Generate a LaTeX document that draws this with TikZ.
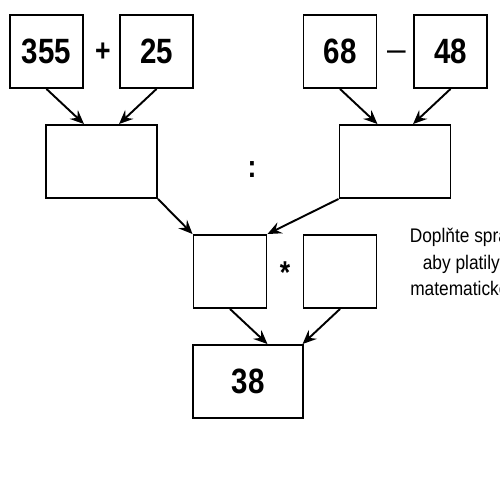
\documentclass[tikz,border=0pt]{standalone}
\usepackage{fontspec}
\setmainfont{Liberation Sans}
\newfontfamily\narrowsf[FakeStretch=0.84]{Liberation Sans}
\newfontfamily\notesf[FakeStretch=0.88]{Liberation Sans}
\usetikzlibrary{arrows.meta, positioning}

\begin{document}
\begin{tikzpicture}[
    % Stili per le caselle
    box/.style={rectangle, draw=black, line width=1.1pt, fill=white, minimum width=1.46cm, minimum height=1.46cm, inner sep=0pt},
    widebox/.style={box, minimum width=2.22cm},
    % Stili per il testo
    numtext/.style={font=\narrowsf\bfseries\fontsize{20}{24}\selectfont},
    optext/.style={font=\narrowsf\bfseries\fontsize{18}{22}\selectfont},
    notetext/.style={font=\notesf\fontsize{11.2}{15}\selectfont, align=center},
    % Stili per le frecce
    flow/.style={-{Stealth[length=2.8mm, width=2.4mm, inset=1mm]}, line width=1.1pt}
]
\useasboundingbox (0,0) rectangle (10,-10);

% === PRIMA RIGA ===
\node[box, numtext] (n355) at (0.93,-1.03) {355};
\node[box, numtext] (n25) at (3.13,-1.03) {25};
\node[box, numtext] (n68) at (6.8,-1.03) {68};
\node[box, numtext] (n48) at (9.01,-1.03) {48};
\node[optext] (plus) at (2.06,-1.04) {+};
\node[font=\fontsize{19}{22}\selectfont] (minus) at (7.93,-1.12) {–};

% === SECONDA RIGA ===
\node[widebox] (sum) at (2.03,-3.23) {};
\node[widebox] (diff) at (7.9,-3.23) {};
\node[optext] (colon) at (5.04,-3.4) {:};

% === TERZA RIGA ===
\node[box] (fa) at (4.6,-5.43) {};
\node[box] (fb) at (6.8,-5.43) {};
\node[optext] (times) at (5.7,-5.45) {*};

% === RISULTATO ===
\node[widebox, numtext, minimum width=2.2cm] (res) at (4.96,-7.63) {38};

% === NOTA ===
\node[notetext] (note) at (9.91,-5.28) {Doplňte správná čísla,\\aby platily všechny\\matematické operace.};

% === FRECCE ===
\draw[flow] (n355.south) -- (sum.north -| n355.east);
\draw[flow] (n25.south) -- (sum.north -| n25.west);
\draw[flow] (n68.south) -- (diff.north -| n68.east);
\draw[flow] (n48.south) -- (diff.north -| n48.west);
\draw[flow] (sum.south east) -- (fa.north west);
\draw[flow] (diff.south west) -- (fa.north east);
\draw[flow] (fa.south) -- (res.north -| fa.east);
\draw[flow] (fb.south) -- (res.north -| fb.west);

\end{tikzpicture}
\end{document}
